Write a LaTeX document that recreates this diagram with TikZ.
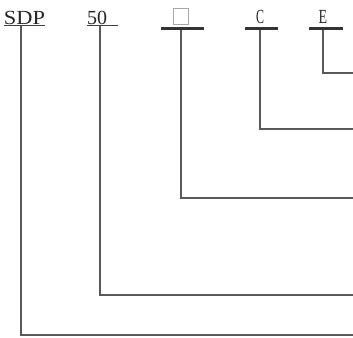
\documentclass[tikz,border=0pt]{standalone}
\usepackage{fontspec}
\setmainfont{Liberation Serif}
\begin{document}
\begin{tikzpicture}[x=1pt,y=-1pt,
  lbl/.style={inner sep=0pt,anchor=base,font=\fontsize{20}{20}\selectfont,text=black!85},
  thin ul/.style={draw=black!75,line width=1.2pt},
  thick ul/.style={draw=black!80,line width=3pt},
  lead/.style={draw=black!65,line width=1.5pt}]
\useasboundingbox (0,0) rectangle (353,337);
% labels
\node[lbl] (sdp) at (24.5,24.5) {\scalebox{1.12}[1]{SDP}};
\node[lbl] (n50) at (97,24.5) {50};
\node[draw=black!35,line width=0.8pt,minimum width=15pt,minimum height=16pt,inner sep=0pt] (box) at (181,16) {};
\node[lbl] (c) at (260,24) {\scalebox{0.6}[1]{C}};
\node[lbl] (e) at (323,24) {\scalebox{0.7}[1]{E}};
% underlines
\coordinate (sdpL) at (4,25.5); \coordinate (sdpR) at (45,25.5);
\coordinate (n50L) at (87,25.5); \coordinate (n50R) at (118,25.5);
\coordinate (boxL) at (161,28.5); \coordinate (boxR) at (204,28.5);
\coordinate (cL) at (245,28.5); \coordinate (cR) at (278,28.5);
\coordinate (eL) at (309,28.5); \coordinate (eR) at (343,28.5);
\draw[thin ul] (sdpL) -- (sdpR);
\draw[thin ul] (n50L) -- (n50R);
\draw[thick ul] (boxL) -- (boxR);
\draw[thick ul] (cL) -- (cR);
\draw[thick ul] (eL) -- (eR);
% lead start points
\coordinate (sdpT) at (21,26);
\coordinate (n50T) at (100,26);
\coordinate (boxT) at (181,30);
\coordinate (cT) at (260,30);
\coordinate (eT) at (323,30);
% lead end points
\coordinate (sdpEnd) at (353,335);
\coordinate (n50End) at (353,295);
\coordinate (boxEnd) at (353,198);
\coordinate (cEnd) at (353,129);
\coordinate (eEnd) at (353,73);
\draw[lead] (sdpT) |- (sdpEnd);
\draw[lead] (n50T) |- (n50End);
\draw[lead] (boxT) |- (boxEnd);
\draw[lead] (cT) |- (cEnd);
\draw[lead] (eT) |- (eEnd);
\end{tikzpicture}
\end{document}
